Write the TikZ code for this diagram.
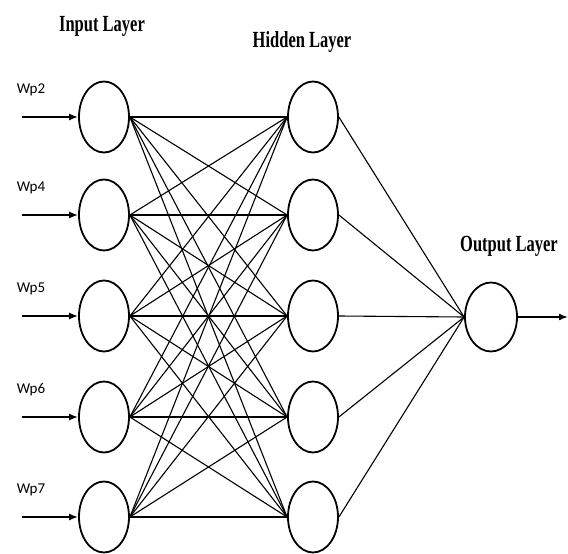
\documentclass[tikz,border=0pt]{standalone}
\usepackage{fontspec}
\setmainfont{Liberation Serif}
\newfontfamily\lblfont{Carlito}
\usetikzlibrary{shapes.geometric,arrows.meta}
\begin{document}
\begin{tikzpicture}[x=1pt,y=-1pt,
  neuron/.style={ellipse,draw,line width=1.8pt,minimum width=50pt,minimum height=71pt,inner sep=0pt},
  conn/.style={line width=1.1pt},
  inarrow/.style={line width=1.6pt,-{Latex[length=9pt,width=7pt]}},
  title/.style={font=\bfseries\fontsize{16.5}{18}\selectfont},
  wlabel/.style={font=\lblfont\fontsize{15}{17}\selectfont}]
\useasboundingbox (0,0) rectangle (568,554);
% input layer
\foreach \i/\y/\t in {1/117/Wp2,2/215/Wp4,3/316/Wp5,4/417/Wp6,5/517/Wp7}{
  \node[neuron] (in\i) at (104,\y) {};
  \node[neuron] (h\i) at (313,\y) {};
  \coordinate (s\i) at (22,\y);
  \node[wlabel] (l\i) at (31,\y-27) {\t};
  \draw[inarrow] (s\i) -- (in\i.west);
}
\node[neuron,minimum width=52pt,minimum height=69pt] (out) at (491,317) {};
\coordinate (oe) at (568,317);
\draw[inarrow] (out.east) -- (oe);
\foreach \i in {1,...,5}{
  \foreach \j in {1,...,5}{
    \draw[conn] (in\i.east) -- (h\j.west);
  }
  \draw[conn] (h\i.east) -- (out.west);
}
\node[title] (ti) at (102,26) {\scalebox{1}[1.4]{Input Layer}};
\node[title] (th) at (302,42) {\scalebox{1}[1.4]{Hidden Layer}};
\node[title] (to) at (509,246) {\scalebox{1}[1.4]{Output Layer}};
\end{tikzpicture}
\end{document}
